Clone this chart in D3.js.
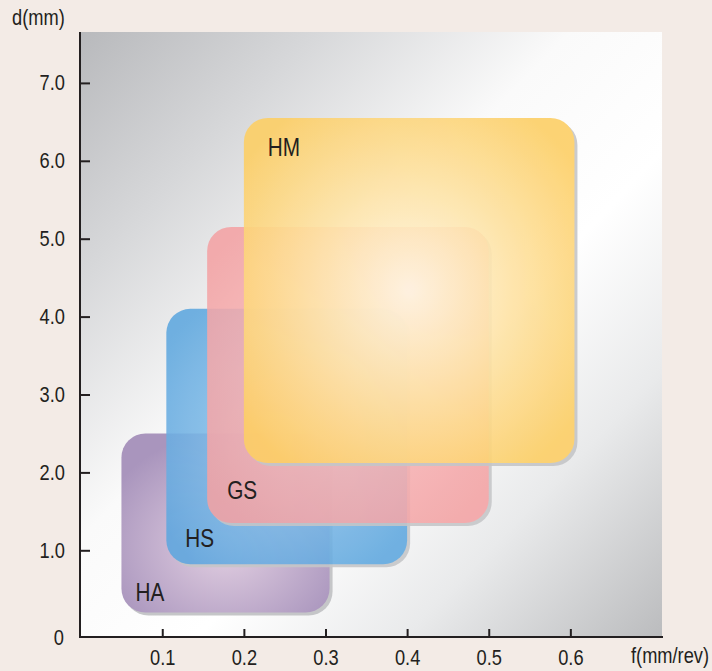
<!DOCTYPE html>
<html>
<head>
<meta charset="utf-8">
<script src="https://cdn.jsdelivr.net/npm/d3@7"></script>
<style>
  html, body { margin: 0; padding: 0; background: #f3ebe6; }
  svg { display: block; }
  .txt { font-family: "Liberation Sans", Arial, Helvetica, sans-serif; fill: #231f20; }
</style>
</head>
<body>
<svg id="chart" width="712" height="671"></svg>
<script>
// Machining ranges: feed f (mm/rev) vs depth of cut d (mm) per process
const processes = ["HA", "HS", "GS", "HM"];
const feedMin  = [0.05, 0.105, 0.155, 0.20];
const feedMax  = [0.305, 0.40, 0.50, 0.605];
const depthMin = [0.20, 0.82, 1.35, 2.12];
const depthMax = [2.50, 4.10, 5.15, 6.55];

const feedTicks  = [0.1, 0.2, 0.3, 0.4, 0.5, 0.6];
const depthTicks = [1, 2, 3, 4, 5, 6, 7];

const edgeColors   = ["#a995bd", "#5ea7df", "#f4a2a4", "#fdcf66"];
const centerColors = ["#e3d0e2", "#9dcbee", "#f9c2c2", "#fff7e4"];
const boxOpacity   = [1, 0.88, 0.87, 0.9];
// label placement: corner and pixel offsets from it
const labelCorner = ["bottom", "bottom", "bottom", "top"];
const labelOffset = [[14, -12], [19, -17], [20, -24], [24, 38]];

const svg = d3.select("#chart");
const plotLeft = 79, plotRight = 663, plotTop = 32, plotBottom = 637;

const x = d3.scaleLinear().domain([-0.002, 0.7135]).range([plotLeft, plotRight]);
const y = d3.scaleLinear().domain([0, 1]).range([628.2, 550.3]);
y.domain([y.invert(plotBottom), y.invert(plotTop)]).range([plotBottom, plotTop]);

const defs = svg.append("defs");
const bg = defs.append("linearGradient").attr("id", "panelGrad")
  .attr("x1", 0).attr("y1", 0).attr("x2", 1).attr("y2", 1);
[[0, "#b8b9bc"], [0.2, "#d6d7d9"], [0.42, "#fafafa"], [0.6, "#ffffff"], [0.78, "#e9eaeb"], [1, "#bbbcbe"]]
  .forEach(([o, c]) => bg.append("stop").attr("offset", o).attr("stop-color", c));

processes.forEach((p, i) => {
  const g = defs.append("radialGradient").attr("id", "grad" + p)
    .attr("cx", "50%").attr("cy", i === 0 ? "62%" : "50%").attr("r", "62%");
  g.append("stop").attr("offset", 0).attr("stop-color", centerColors[i]);
  g.append("stop").attr("offset", 1).attr("stop-color", edgeColors[i]);
});

// background panel
svg.append("rect")
  .attr("x", plotLeft + 1).attr("y", plotTop)
  .attr("width", 662 - plotLeft - 1).attr("height", plotBottom - plotTop)
  .attr("fill", "url(#panelGrad)");

// process ranges
const boxes = svg.append("g");
processes.forEach((p, i) => {
  const bx = x(feedMin[i]), by = y(depthMax[i]);
  const bw = x(feedMax[i]) - bx, bh = y(depthMin[i]) - by;
  const g = boxes.append("g").attr("opacity", boxOpacity[i]);
  g.append("rect")
    .attr("x", bx + 3).attr("y", by + 3).attr("width", bw).attr("height", bh)
    .attr("rx", 24).attr("fill", "#c5c6c8");
  g.append("rect")
    .attr("x", bx).attr("y", by).attr("width", bw).attr("height", bh)
    .attr("rx", 24).attr("fill", "url(#grad" + p + ")");
});

processes.forEach((p, i) => {
  const lx = x(feedMin[i]) + labelOffset[i][0];
  const ly = (labelCorner[i] === "top" ? y(depthMax[i]) : y(depthMin[i])) + labelOffset[i][1];
  svg.append("text").attr("class", "txt")
    .attr("x", lx).attr("y", ly)
    .attr("font-size", 25)
    .text(p);
});

// axes
const yAxis = d3.axisLeft(y).tickValues(depthTicks).tickFormat(d3.format(".1f"))
  .tickSize(-10).tickPadding(15).tickSizeOuter(0);
const gy = svg.append("g").attr("transform", `translate(${plotLeft + 1},0)`).call(yAxis);
const xAxis = d3.axisBottom(x).tickValues(feedTicks).tickFormat(d3.format(".1f"))
  .tickSize(-8).tickPadding(12).tickSizeOuter(0);
const gx = svg.append("g").attr("transform", `translate(0,${plotBottom})`).call(xAxis);

[gx, gy].forEach(g => {
  g.select(".domain").remove();
  g.selectAll(".tick line").attr("stroke", "#231f20").attr("stroke-width", 2);
  g.selectAll(".tick text").attr("class", "txt").attr("font-size", 22).attr("fill", "#231f20");
});

svg.append("line").attr("x1", plotLeft + 1).attr("x2", plotLeft + 1).attr("y1", plotTop).attr("y2", plotBottom)
  .attr("stroke", "#231f20").attr("stroke-width", 2);
svg.append("line").attr("x1", plotLeft).attr("x2", plotRight).attr("y1", plotBottom).attr("y2", plotBottom)
  .attr("stroke", "#231f20").attr("stroke-width", 2);

svg.append("text").attr("class", "txt").attr("x", plotLeft - 15).attr("y", plotBottom + 8)
  .attr("text-anchor", "end").attr("font-size", 22).text("0");
svg.append("text").attr("class", "txt").attr("x", 12).attr("y", 25)
  .attr("font-size", 22).text("d(mm)");

// condensed lettering: squeeze every label horizontally
svg.selectAll("text").each(function () {
  const w = this.getComputedTextLength();
  d3.select(this).attr("textLength", w * 0.83).attr("lengthAdjust", "spacingAndGlyphs");
});

// x-axis title, condensed with a transform
svg.append("text").attr("class", "txt")
  .attr("transform", "translate(631,663) scale(0.83,1)")
  .attr("font-size", 22).text("f(mm/rev)");
</script>
</body>
</html>
